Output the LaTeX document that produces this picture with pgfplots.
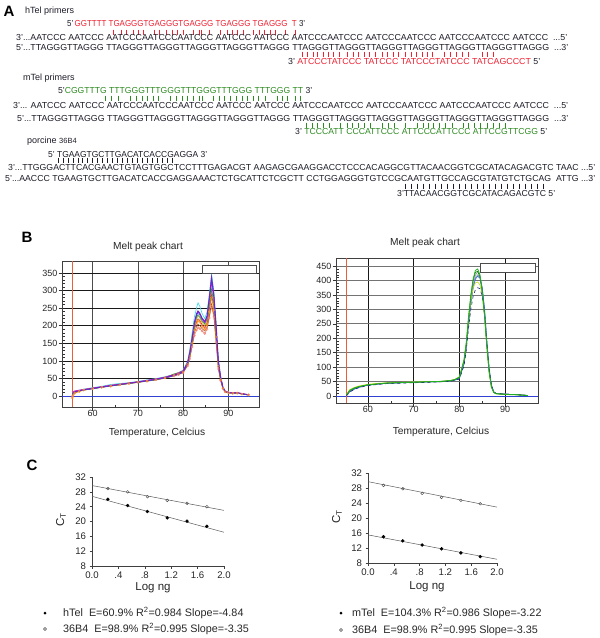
\documentclass[border=0pt]{standalone}
\usepackage{pgfplots}
\pgfplotsset{compat=1.18}
\usepackage{pgfplotstable}
\usepackage{graphicx}
\usepackage{fontspec}
\setmainfont{Liberation Sans}
\definecolor{seqred}{HTML}{EE2233}
\definecolor{seqgreen}{HTML}{2E8B22}
\definecolor{seqink}{HTML}{1C1C28}
\definecolor{cA}{HTML}{30D8E8}
\definecolor{cB}{HTML}{7A1FC0}
\definecolor{cC}{HTML}{2050FF}
\definecolor{cD}{HTML}{E020D0}
\definecolor{cE}{HTML}{30A030}
\definecolor{cF}{HTML}{B8B020}
\definecolor{cG}{HTML}{FF9020}
\definecolor{cH}{HTML}{A0522D}
\definecolor{cI}{HTML}{F08070}
\definecolor{cJ}{HTML}{E02020}
\definecolor{mA}{HTML}{20B020}
\definecolor{mB}{HTML}{9A9A9A}
\definecolor{mC}{HTML}{3366DD}
\definecolor{mD}{HTML}{C8DC10}
\definecolor{mE}{HTML}{1A237E}
\definecolor{mF}{HTML}{7F8FBF}
\definecolor{mG}{HTML}{107A10}
\definecolor{vred}{HTML}{E8603A}
\definecolor{hblue}{HTML}{3040D0}

\newcommand{\seqfont}{\fontsize{8.7}{9}\selectfont}
\newcommand{\sq}[4]{\node[anchor=base west, inner sep=0pt, font=\seqfont, text=seqink] at (#1pt,-#2pt) {\resizebox{#3pt}{\height}{#4}};}

\pgfplotstableread{
x c1 c2 c3 c4 c5 c6 c7 c8 c9 c10
55.5 10 8 6 12 5 9 -5 10 0 7
56 14 12 11 15 10 13 8 13 9 12
57 17 15 15 17 14 16 13 16 14 15
58 20 18 17 19 17 19 17 18 17 18
60 24 22 21 23 21 22 21 22 21 22
62 28 26 25 27 25 26 25 26 25 26
64 33 30 29 31 29 30 29 30 28 30
66 36 33 33 34 32 34 32 33 32 33
68 38 37 36 37 36 37 36 36 35 37
70 42 40 40 41 39 41 40 39 39 40
72 46 44 43 45 43 44 43 43 42 44
74 50 48 47 49 47 48 47 46 46 48
76 55 53 52 54 52 54 52 51 51 53
78 62 60 58 61 63 62 59 58 57 60
79 66 64 62 66 67 66 63 62 61 64
80 74 70 68 72 72 71 69 67 66 70
81 100 95 92 96 94 93 90 88 86 92
81.5 135 125 120 126 120 118 114 110 106 118
82 180 165 160 166 158 155 150 145 140 154
82.5 225 210 205 208 200 196 188 180 172 192
83 252 235 230 232 225 220 208 198 188 212
83.3 265 242 238 240 232 228 215 205 195 220
83.7 255 236 232 233 226 222 210 200 192 215
84.2 235 222 220 218 214 210 198 192 185 203
84.8 220 212 210 208 205 200 190 185 178 195
85.3 240 228 226 222 218 214 203 196 190 208
85.8 290 280 275 270 258 255 240 228 222 248
86.3 348 338 330 322 305 300 280 262 255 290
86.8 300 290 285 280 265 262 245 232 225 255
87.3 210 203 198 193 183 180 168 157 153 174
87.8 105 101 99 97 92 90 84 79 77 87
88.3 58 55 54 53 50 50 47 45 44 48
88.8 28 26 25 25 24 24 23 22 21 23
89.3 15 14 13 14 13 13 13 12 12 13
90 11 10 10 11 10 10 10 10 10 10
91 9 9 8 9 8 9 8 8 8 8
92 10 10 9 10 9 9 9 9 8 9
93 7 7 6 7 6 6 6 6 6 6
94.5 4 4 3 4 3 4 4 3 3 4
}\hTelmelt

\pgfplotstableread{
x a b c d e f g
55.3 4 3 2 6 1 3 5
56 20 17 15 22 14 16 19
57 28 25 24 30 23 25 27
58 33 30 30 35 29 31 32
59 36 34 34 38 33 35 36
60 39 37 38 41 36 38 39
62 42 41 41 44 40 42 42
64 45 44 44 46 43 45 45
66 46 46 45 47 44 46 46
68 47 47 46 48 45 47 47
70 48 49 48 49 46 49 48
72 49 49 48 50 47 49 49
74 50 50 49 50 48 50 49
76 51 51 50 51 49 51 50
78 54 53 52 54 51 53 53
79 57 56 55 58 54 56 57
80 66 63 61 67 59 62 64
81 125 115 110 120 105 112 122
81.5 185 172 165 178 158 168 182
82 275 258 248 262 235 252 270
82.5 350 332 320 330 300 325 345
83 405 385 372 375 345 380 400
83.5 435 418 405 392 368 410 428
84 440 430 415 395 375 420 432
84.5 420 420 408 385 372 412 412
85 360 375 375 350 345 370 360
85.5 280 300 305 275 285 295 280
86 175 190 195 170 185 185 172
86.5 85 95 100 80 95 92 84
87 32 36 40 30 38 35 32
87.5 13 15 16 12 15 14 13
88 8 9 9 8 9 9 8
89 7 8 8 7 8 7 7
90 6 8 7 6 7 7 6
91 5 6 6 5 6 6 5
92 5 6 5 5 5 5 5
93 4 5 5 4 4 4 4
94 3 4 4 3 3 3 3
95 2 2 2 2 1 2 2
}\mTelmelt

\pgfplotsset{
  melt/.style={
    scale only axis,
    xtick={60,70,80,90}, minor xtick={65,75,85},
    ytick distance=50, minor y tick num=4,
    xtick pos=bottom, ytick pos=left,
    grid=major,
    tick align=inside, major tick length=3.5pt, minor tick length=2.5pt,
    every major y tick/.append style={xshift=-3.5pt},
    every major x tick/.append style={yshift=-3.5pt},
    tick style={black!80, line width=0.5pt},
    ticklabel style={font=\fontsize{9}{9}\selectfont, text=black!85},
    yticklabel style={xshift=-1pt},
    /pgf/number format/assume math mode=true,
    axis line style={black!75, line width=0.8pt},
    every axis plot/.append style={line width=0.6pt, mark=none},
  },
  ctplot/.style={
    scale only axis,
    axis x line=bottom, axis y line=left,
    axis line style={-, black!75, line width=0.5pt},
    xmin=0, xmax=2, ymin=8, ymax=32,
    xtick={0,0.4,0.8,1.2,1.6,2}, xticklabels={0.0,.4,.8,1.2,1.6,2.0},
    ytick={8,12,16,20,24,28,32},
    tick align=outside, major tick length=2.5pt,
    tick style={black!75, line width=0.5pt},
    ticklabel style={font=\fontsize{9.6}{10}\selectfont, text=black!85},
    /pgf/number format/assume math mode=true,
  },
}

\begin{document}
\begin{tikzpicture}[x=1pt,y=1pt]
\path[use as bounding box] (0pt,0pt) rectangle (600pt,-638pt);

% ---------------- Panel A ----------------
\node[font=\fontsize{15}{15}\selectfont\bfseries, inner sep=0pt] at (9pt,-11.5pt) {A};
\node[anchor=base west, inner sep=0pt, font=\fontsize{9}{9}\selectfont, text=seqink] at (25pt,-13.2pt) {hTel primers};
\sq{67}{26.2}{238}{5'\,\textcolor{seqred}{GGTTTT TGAGGGTGAGGGTGAGGG TGAGGG TGAGGG\ \ T} 3'}
\foreach \x in {113,121,126,133,138,143,154,159,166,172,177,183,193,199,201,209,220,227,232,237,243,253,259,264,270,275,285,295}
  \draw[seqred, line width=0.7pt] (\x pt,-29.5pt) -- (\x pt,-35pt);
\sq{16}{40.2}{551}{3'...AATCCC AATCCC AATCCCAATCCCAATCCC AATCCC AATCCC AATCCCAATCCC AATCCCAATCCC AATCCCAATCCC AATCCC \ ...5'}
\sq{16}{50.2}{552}{5'...TTAGGGTTAGGG TTAGGGTTAGGGTTAGGGTTAGGGTTAGGG TTAGGGTTAGGGTTAGGGTTAGGGTTAGGGTTAGGGTTAGGG \ ...3'}
\foreach \x in {302,307,313,317,323,328,333,339,347,353,358,364,369,375,382,387,393,398,405,411,416,422,427,432,444,450,456,462,468,482,487,493}
  \draw[seqred, line width=0.7pt] (\x pt,-51.5pt) -- (\x pt,-57pt);
\sq{288}{64.2}{252}{3' \textcolor{seqred}{ATCCCTATCCC TATCCC TATCCCTATCCC TATCAGCCCT} 5'}

\node[anchor=base west, inner sep=0pt, font=\fontsize{9}{9}\selectfont, text=seqink] at (23pt,-80.2pt) {mTel primers};
\sq{58}{93.2}{254}{5'\textcolor{seqgreen}{CGGTTTG TTTGGGTTTGGGTTTGGGTTTGGG TTTGGG TT} 3'}
\foreach \x in {105,111,118,130,136,142,147,153,158,170,176,182,187,193,199,202,213,219,224,230,236,242,247,253,258,265,277,282,287,295,300}
  \draw[seqgreen, line width=0.7pt] (\x pt,-95.5pt) -- (\x pt,-101pt);
\sq{13}{108.2}{555}{3'... AATCCC AATCCC AATCCCAATCCCAATCCC AATCCC AATCCC AATCCCAATCCC AATCCCAATCCC AATCCCAATCCC AATCCC \ ...5'}
\sq{17}{121.2}{551}{5'...TTAGGGTTAGGG TTAGGGTTAGGGTTAGGGTTAGGGTTAGGG TTAGGGTTAGGGTTAGGGTTAGGGTTAGGGTTAGGGTTAGGG \ ...3'}
\foreach \x in {306,312,317,323,329,340,347,352,358,364,370,382,388,394,405,417,423,428,433,439,445,452,463,468,474,480,487,493,499,505}
  \draw[seqgreen, line width=0.7pt] (\x pt,-122.5pt) -- (\x pt,-128pt);
\sq{295}{134.2}{252}{3' \textcolor{seqgreen}{TCCCATT CCCATTCCC ATTCCCATTCCC ATTCCGTTCGG} 5'}

\node[anchor=base west, inner sep=0pt, font=\fontsize{9}{9}\selectfont, text=seqink] at (27pt,-143.2pt) {porcine \fontsize{7.5}{8}\selectfont 36B4};
\sq{48}{157.2}{159}{5' TGAAGTGCTTGACATCACCGAGGA 3'}
\foreach \i in {0,...,23}
  \draw[seqink, line width=0.6pt] ({58pt+\i*4.95pt},-157.5pt) -- ({58pt+\i*4.95pt},-163pt);
\sq{8}{170.2}{587}{3'...TTGGGACTTCACGAACTGTAGTGGCTCCTTTGAGACGT AAGAGCGAAGGACCTCCCACAGGCGTTACAACGGTCGCATACAGACGTC TAAC ...5'}
\sq{5}{181.2}{590}{5'...AACCC TGAAGTGCTTGACATCACCGAGGAAACTCTGCATTCTCGCTT CCTGGAGGGTGTCCGCAATGTTGCCAGCGTATGTCTGCAG \ ATTG ...3'}
\foreach \i in {0,...,23}
  \draw[seqink, line width=0.6pt] ({405pt+\i*6pt},-183.5pt) -- ({405pt+\i*6pt},-189pt);
\sq{397}{196.2}{158}{3'TTACAACGGTCGCATACAGACGTC 5'}

% ---------------- Panel B ----------------
\node[font=\fontsize{15}{15}\selectfont\bfseries, inner sep=0pt] at (27pt,-237pt) {B};
\node[font=\fontsize{10.2}{11}\selectfont, text=black!85] at (148pt,-247pt) {Melt peak chart};
\node[font=\fontsize{10.2}{11}\selectfont, text=black!85] at (425pt,-243pt) {Melt peak chart};
\node[font=\fontsize{10.2}{11}\selectfont, text=black!85] at (157pt,-433pt) {Temperature, Celcius};
\node[font=\fontsize{10.2}{11}\selectfont, text=black!85] at (441pt,-432pt) {Temperature, Celcius};

\begin{axis}[melt, at={(62pt,-407pt)}, anchor=south west, width=197pt, height=146pt,
  xmin=53.2, xmax=96.8, ymin=-31, ymax=384, ytick={0,50,...,350},
  x grid style={black!70, line width=0.8pt}, y grid style={black!90, line width=0.8pt}]
  \addplot[hblue, line width=0.6pt] coordinates {(53.2,0) (96.8,0)};
  \addplot[vred, line width=0.8pt] coordinates {(55.4,-31) (55.4,384)};
  \addplot[cA] table[x=x,y=c1] {\hTelmelt};
  \addplot[cI, mark=o, mark size=1.1pt, mark options={line width=0.3pt}] table[x=x,y=c9] {\hTelmelt};
  \addplot[cH] table[x=x,y=c8] {\hTelmelt};
  \addplot[cG, mark=o, mark size=1.1pt, mark options={line width=0.3pt}] table[x=x,y=c7] {\hTelmelt};
  \addplot[cJ] table[x=x,y=c10] {\hTelmelt};
  \addplot[cF] table[x=x,y=c6] {\hTelmelt};
  \addplot[cE] table[x=x,y=c5] {\hTelmelt};
  \addplot[cD] table[x=x,y=c4] {\hTelmelt};
  \addplot[cC] table[x=x,y=c3] {\hTelmelt};
  \addplot[cB, line width=0.9pt] table[x=x,y=c2] {\hTelmelt};
  \draw[black!70, fill=white, line width=0.6pt] (axis cs:84.3,350) rectangle (axis cs:96.2,373);
\end{axis}

\begin{axis}[melt, at={(336pt,-403pt)}, anchor=south west, width=202pt, height=145pt,
  xmin=53, xmax=97.2, ymin=-24, ymax=478, ytick={0,50,...,450},
  x grid style={black!90, line width=0.8pt}, y grid style={black!55, line width=0.8pt}]
  \addplot[hblue, line width=0.6pt] coordinates {(53,0) (97.2,0)};
  \addplot[vred, line width=0.8pt] coordinates {(55.2,-24) (55.2,478)};
  \addplot[mB] table[x=x,y=b] {\mTelmelt};
  \addplot[mF] table[x=x,y=f] {\mTelmelt};
  \addplot[mC] table[x=x,y=c] {\mTelmelt};
  \addplot[mD] table[x=x,y=d] {\mTelmelt};
  \addplot[mE, dashed] table[x=x,y=e] {\mTelmelt};
  \addplot[mG] table[x=x,y=g] {\mTelmelt};
  \addplot[mA, line width=0.8pt] table[x=x,y=a] {\mTelmelt};
  \draw[black!70, fill=white, line width=0.6pt] (axis cs:84.5,429.5) rectangle (axis cs:96.5,460.7);
\end{axis}

% ---------------- Panel C ----------------
\node[font=\fontsize{15}{15}\selectfont\bfseries, inner sep=0pt] at (32pt,-465pt) {C};

\begin{axis}[ctplot, at={(92pt,-566pt)}, anchor=south west, width=132pt, height=89pt]
  \addplot[black!65, line width=0.5pt] coordinates {(0,29.7) (2,23.0)};
  \addplot[black!65, line width=0.5pt] coordinates {(0,26.8) (2,17.1)};
  \addplot[only marks, mark=o, mark size=1.4pt, mark options={black!70, line width=0.4pt, fill=white}]
    coordinates {(0.24,28.9) (0.54,28.0) (0.84,26.7) (1.14,25.7) (1.44,24.9) (1.74,24.0)};
  \addplot[only marks, mark=*, mark size=1.5pt, mark options={black}]
    coordinates {(0.24,26.0) (0.54,24.3) (0.84,22.7) (1.14,21.0) (1.44,20.1) (1.74,18.7)};
\end{axis}

\begin{axis}[ctplot, at={(368pt,-563pt)}, anchor=south west, width=129pt, height=90pt]
  \addplot[black!65, line width=0.5pt] coordinates {(0,29.7) (2,22.9)};
  \addplot[black!65, line width=0.5pt] coordinates {(0,15.5) (2,9.0)};
  \addplot[only marks, mark=o, mark size=1.4pt, mark options={black!70, line width=0.4pt, fill=white}]
    coordinates {(0.24,28.7) (0.54,27.8) (0.84,26.6) (1.14,25.5) (1.44,24.7) (1.74,23.8)};
  \addplot[only marks, mark=*, mark size=1.5pt, mark options={black}]
    coordinates {(0.24,15.0) (0.54,13.9) (0.84,12.8) (1.14,11.8) (1.44,10.7) (1.74,9.7)};
\end{axis}

\node[rotate=90, font=\fontsize{11.5}{12}\selectfont, text=black!85] at (61pt,-520pt) {C\textsubscript{T}};
\node[rotate=90, font=\fontsize{11.5}{12}\selectfont, text=black!85] at (337pt,-517pt) {C\textsubscript{T}};
\node[font=\fontsize{11.5}{12}\selectfont, text=black!85] at (153pt,-588pt) {Log ng};
\node[font=\fontsize{11.5}{12}\selectfont, text=black!85] at (427pt,-587pt) {Log ng};

\fill[black] (45pt,-613pt) circle (1.5pt);
\draw[black!75, line width=0.45pt] (45pt,-629pt) circle (1.5pt);
\node[anchor=west, inner sep=0pt, font=\fontsize{10.8}{11}\selectfont, text=black!85] at (63pt,-613pt) {hTel\ \ E=60.9\% R\textsuperscript{2}=0.984 Slope=-4.84};
\node[anchor=west, inner sep=0pt, font=\fontsize{10.8}{11}\selectfont, text=black!85] at (63pt,-629pt) {36B4\ \ E=98.9\% R\textsuperscript{2}=0.995 Slope=-3.35};
\fill[black] (341pt,-613pt) circle (1.5pt);
\draw[black!75, line width=0.45pt] (341pt,-630pt) circle (1.5pt);
\node[anchor=west, inner sep=0pt, font=\fontsize{10.8}{11}\selectfont, text=black!85] at (352pt,-613pt) {mTel\ \ E=104.3\% R\textsuperscript{2}=0.986 Slope=-3.22};
\node[anchor=west, inner sep=0pt, font=\fontsize{10.8}{11}\selectfont, text=black!85] at (352pt,-630pt) {36B4\ \ E=98.9\% R\textsuperscript{2}=0.995 Slope=-3.35};
\end{tikzpicture}
\end{document}
